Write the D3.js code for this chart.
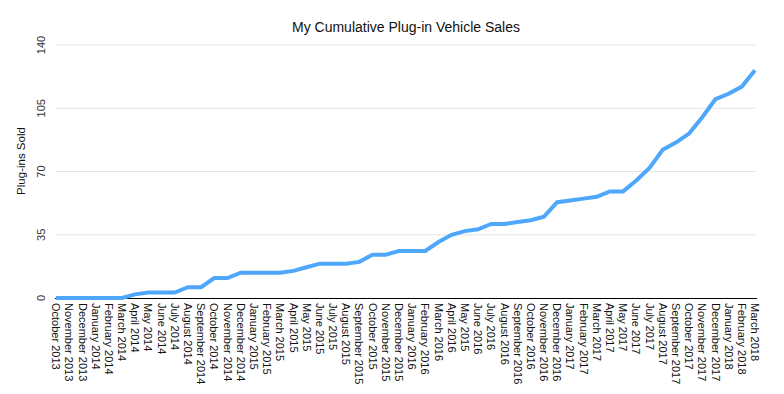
<!DOCTYPE html>
<html><head><meta charset="utf-8">
<script src="https://cdn.jsdelivr.net/npm/d3@7"></script>
<style>body{margin:0;background:#fff;} text{font-family:"Liberation Sans",Arial,sans-serif;}</style>
</head><body>
<svg id="chart" width="784" height="394"></svg>
<script>
const months = ["October 2013","November 2013","December 2013","January 2014","February 2014","March 2014","April 2014","May 2014","June 2014","July 2014","August 2014","September 2014","October 2014","November 2014","December 2014","January 2015","February 2015","March 2015","April 2015","May 2015","June 2015","July 2015","August 2015","September 2015","October 2015","November 2015","December 2015","January 2016","February 2016","March 2016","April 2016","May 2015","June 2016","July 2016","August 2016","September 2016","October 2016","November 2016","December 2016","January 2017","February 2017","March 2017","April 2017","May 2017","June 2017","July 2017","August 2017","September 2017","October 2017","November 2017","December 2017","January 2018","February 2018","March 2018"];
const sales = [0,0,0,0,0,0,2,3,3,3,6,6,11,11,14,14,14,14,15,17,19,19,19,20,24,24,26,26,26,31,35,37,38,41,41,42,43,45,53,54,55,56,59,59,65,72,82,86,91,100,110,113,117,126];
const yTicks = [0,35,70,105,140];
const title = "My Cumulative Plug-in Vehicle Sales";
const yLabel = "Plug-ins Sold";

const svg = d3.select("#chart");
const x = d3.scalePoint().domain(d3.range(months.length)).range([56,755]);
const y = d3.scaleLinear().domain([0,140]).range([298,45]);

// gridlines
svg.append("g").selectAll("line").data(yTicks.filter(d=>d>0)).join("line")
  .attr("x1",56).attr("x2",756).attr("y1",d=>y(d)).attr("y2",d=>y(d))
  .attr("stroke","#e5e5e5").attr("stroke-width",1);

// y tick labels
svg.append("g").selectAll("text").data(yTicks).join("text")
  .attr("transform",d=>`translate(41,${y(d)}) rotate(-90)`)
  .attr("text-anchor","middle").attr("dy","0.35em")
  .attr("font-size",11).attr("fill","#333").text(d=>d);

// x axis line
svg.append("line").attr("x1",55).attr("x2",757).attr("y1",y(0)+0.5).attr("y2",y(0)+0.5)
  .attr("stroke","#000").attr("stroke-width",1);

// x labels
svg.append("g").selectAll("text").data(months).join("text")
  .attr("transform",(d,i)=>`translate(${x(i)},303) rotate(90)`)
  .attr("text-anchor","start").attr("dy","0.35em")
  .attr("font-size",11).attr("fill","#111").text(d=>d);

// line
const line = d3.line().x((d,i)=>x(i)).y(d=>y(d));
svg.append("path").datum(sales).attr("d",line)
  .attr("fill","none").attr("stroke","#4fa7fb").attr("stroke-width",4)
  .attr("stroke-linejoin","miter");

// title
svg.append("text").attr("x",406).attr("y",32).attr("text-anchor","middle")
  .attr("font-size",14).attr("fill","#111").text(title);

// y axis label
svg.append("text").attr("transform","translate(21,161) rotate(-90)")
  .attr("text-anchor","middle").attr("dy","0.35em")
  .attr("font-size",11.5).attr("fill","#111").text(yLabel);
</script>
</body></html>
